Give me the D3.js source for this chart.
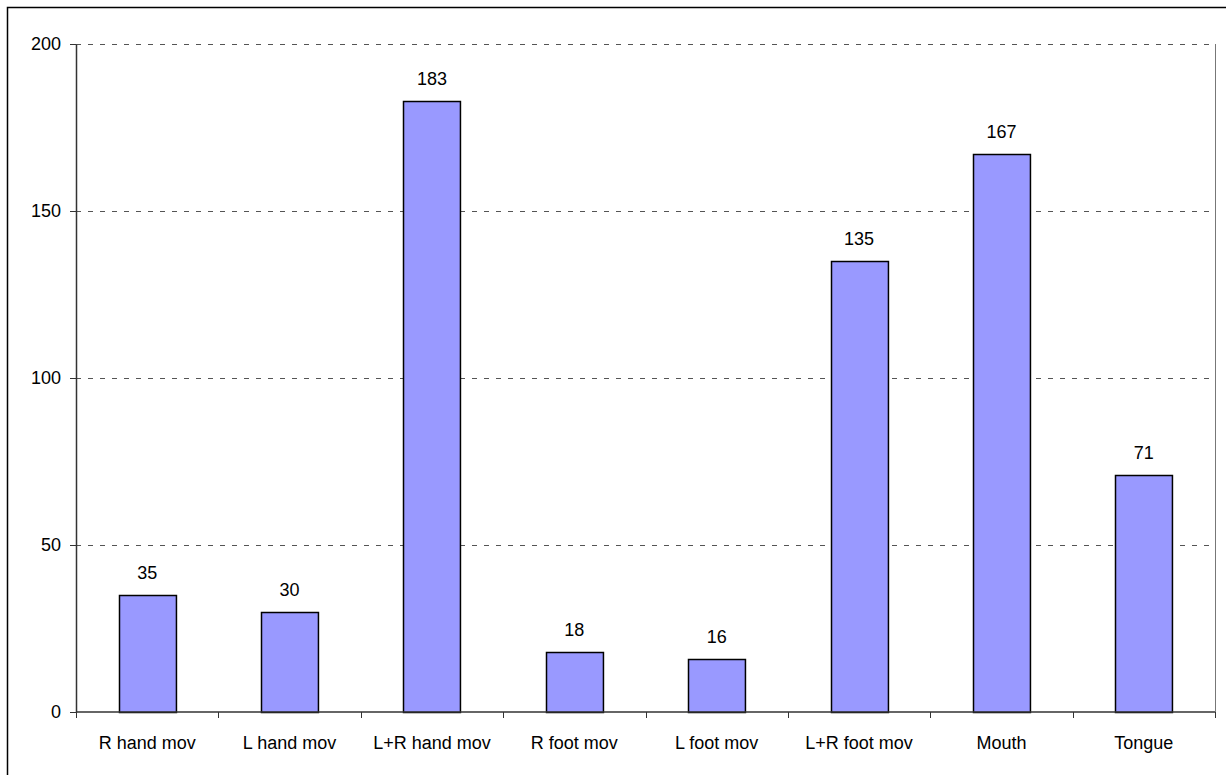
<!DOCTYPE html>
<html>
<head>
<meta charset="utf-8">
<script src="https://cdn.jsdelivr.net/npm/d3@7"></script>
<style>
  body { margin: 0; background: white; }
  text { font-family: "Liberation Sans", Arial, sans-serif; }
</style>
</head>
<body>
<div id="vis"></div>
<script>
// movement categories and their counts
let categories = ['R hand mov', 'L hand mov', 'L+R hand mov', 'R foot mov', 'L foot mov', 'L+R foot mov', 'Mouth', 'Tongue'];
let counts = [35, 30, 183, 18, 16, 135, 167, 71];
let yTicks = [0, 50, 100, 150, 200];

let W = 1226, H = 775;
let margin = { top: 44, left: 76, right: 11, bottom: 63 },
  width = W - margin.left - margin.right,
  height = H - margin.top - margin.bottom;
let fs = 18;

let svg = d3.select('#vis')
  .append('svg')
  .attr('width', W)
  .attr('height', H)
  .style('display', 'block');

// outer frame (only top/left visible in the picture)
svg.append('rect')
  .attr('x', 7.5).attr('y', 7.5)
  .attr('width', W + 20).attr('height', H + 20)
  .attr('fill', 'white')
  .attr('stroke', 'black')
  .attr('stroke-width', 1.5);

let g = svg.append('g').attr('transform', `translate(${margin.left},${margin.top})`);

let x = d3.scaleBand().domain(categories).range([0, width]).paddingInner(0.6).paddingOuter(0.3);
let xTick = d3.scaleBand().domain(categories).range([0, width]);
let y = d3.scaleLinear().domain([0, 200]).range([height, 0]);

// dashed gridlines
g.selectAll('.grid')
  .data(yTicks.filter(d => d > 0))
  .enter().append('line')
  .attr('x1', 0).attr('x2', width)
  .attr('y1', d => Math.round(y(d)) + 0.5).attr('y2', d => Math.round(y(d)) + 0.5)
  .attr('stroke', '#555')
  .attr('stroke-width', 1)
  .attr('stroke-dasharray', '5,7');

// right edge of plot area
g.append('line')
  .attr('x1', width + 0.5).attr('x2', width + 0.5)
  .attr('y1', 0).attr('y2', height)
  .attr('stroke', '#777').attr('stroke-width', 1);

// bars
g.selectAll('.bar')
  .data(categories)
  .enter().append('rect')
  .attr('x', d => Math.round(x(d)) + 0.5)
  .attr('y', (d, i) => Math.round(y(counts[i])) + 0.5)
  .attr('width', x.bandwidth())
  .attr('height', (d, i) => height - Math.round(y(counts[i])))
  .attr('fill', '#9999ff')
  .attr('stroke', 'black')
  .attr('stroke-width', 1.5);

// value labels
g.selectAll('.lbl')
  .data(categories)
  .enter().append('text')
  .attr('x', d => x(d) + x.bandwidth() / 2)
  .attr('y', (d, i) => y(counts[i]) - 16)
  .attr('text-anchor', 'middle')
  .attr('font-size', fs)
  .attr('fill', 'black')
  .text((d, i) => counts[i]);

// y axis
let yAxis = g.append('g')
  .call(d3.axisLeft(y).tickValues(yTicks).tickSize(6).tickSizeOuter(0).tickPadding(9));
yAxis.select('.domain').attr('stroke', '#333').attr('stroke-width', 1.5);
yAxis.selectAll('line').attr('stroke', '#333');
yAxis.selectAll('text').attr('font-size', fs).attr('fill', 'black')
  .style('font-family', '"Liberation Sans", Arial, sans-serif');

// x axis, ticks between categories
let xAxisG = g.append('g').attr('transform', `translate(0,${height})`);
xAxisG.append('line')
  .attr('x1', 0).attr('x2', width)
  .attr('y1', 0).attr('y2', 0)
  .attr('stroke', '#333').attr('stroke-width', 1.5);
xAxisG.selectAll('.xt')
  .data(categories.concat(['end']))
  .enter().append('line')
  .attr('x1', (d, i) => Math.round(i * xTick.bandwidth()) + 0.5)
  .attr('x2', (d, i) => Math.round(i * xTick.bandwidth()) + 0.5)
  .attr('y1', 0).attr('y2', 6)
  .attr('stroke', '#333');
xAxisG.selectAll('.xl')
  .data(categories)
  .enter().append('text')
  .attr('x', d => xTick(d) + xTick.bandwidth() / 2)
  .attr('y', 37)
  .attr('text-anchor', 'middle')
  .attr('font-size', fs)
  .attr('fill', 'black')
  .text(d => d);
</script>
</body>
</html>
